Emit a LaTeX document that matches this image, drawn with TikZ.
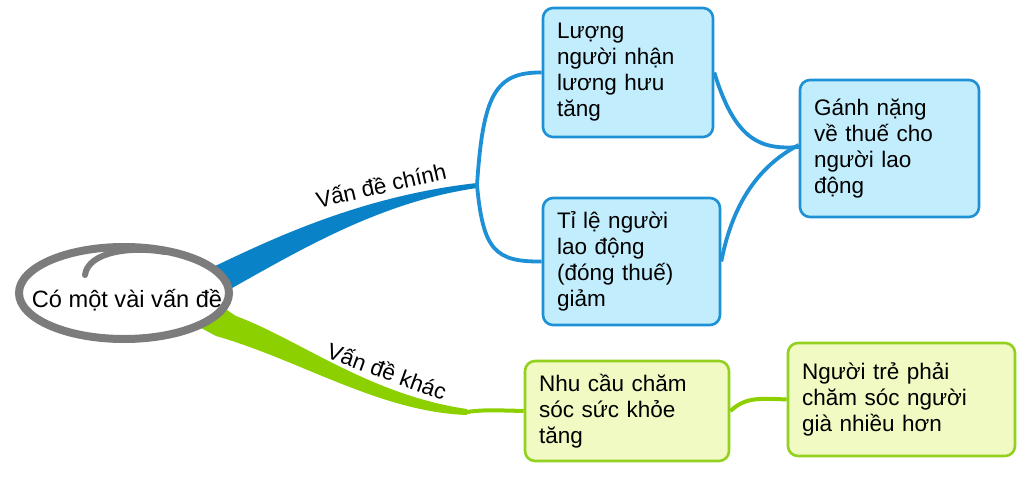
\documentclass[tikz,border=0pt]{standalone}
\usepackage{fontspec}
\setmainfont{Liberation Sans}
\definecolor{bline}{HTML}{1E90D6}
\definecolor{bfill}{HTML}{C2EDFC}
\definecolor{bbranch}{HTML}{0A82C8}
\definecolor{gline}{HTML}{92D21E}
\definecolor{gfill}{HTML}{F0FAC2}
\definecolor{gbranch}{HTML}{8CD000}
\definecolor{ring}{HTML}{7C7C7C}
\begin{document}
\begin{tikzpicture}[x=1pt,y=-1pt,
  txt/.style={font=\fontsize{22.5}{26}\selectfont},
  box/.style={txt, rounded corners=10pt, line width=2.6pt, inner xsep=14pt, inner ysep=4pt, align=left},
  bluebox/.style={box, draw=bline, fill=bfill},
  greenbox/.style={box, draw=gline, fill=gfill},
  bcon/.style={draw=bline, line width=3.8pt},
  gcon/.style={draw=gbranch, line width=4pt},
  lab/.style={txt, inner sep=0pt},
  ringline/.style={draw=ring, line width=8pt}]
\useasboundingbox (0,0) rectangle (1024,487);

% branches (drawn first, their roots hidden under the ellipse)
\coordinate (bj) at (477,185);
\coordinate (gj) at (467,412);
\fill[bbranch] (200,275) -- (213,267) .. controls (270,240) and (360,196) .. (477,183)
  -- (477,188) .. controls (380,202) and (300,250) .. (225,292) -- (205,292) -- cycle;
\fill[gbranch] (215,302) -- (236,316) .. controls (300,340) and (370,395) .. (467,409)
  -- (467,415) .. controls (380,412) and (300,360) .. (216,336) -- (190,322) -- cycle;

% root
\coordinate (rc) at (124,293);
\draw[ringline, fill=white] (rc) ellipse [x radius=105pt, y radius=46pt];
\draw[ring, line width=6pt, line cap=round] (85,275) .. controls (88,252) and (130,246) .. (165,252);
\node[font=\fontsize{23.6}{26}\selectfont, inner sep=0pt] (root) at (127,300) {Có một vài vấn đề};

% boxes
\node[bluebox, text width=142pt, minimum height=129pt] (A) at (628,72.5)
  {Lượng\\người nhận\\lương hưu\\tăng};
\node[bluebox, text width=149pt, minimum height=127pt] (B) at (631.5,261.5)
  {Tỉ lệ người\\lao động\\(đóng thuế)\\giảm};
\node[bluebox, text width=151pt, minimum height=137pt] (C) at (889.5,148.5)
  {Gánh nặng\\về thuế cho\\người lao\\động};
\node[greenbox, text width=176pt, minimum height=100pt] (D) at (627,411)
  {Nhu cầu chăm\\sóc sức khỏe\\tăng};
\node[greenbox, text width=199pt, minimum height=113pt] (E) at (901.5,399.5)
  {Người trẻ phải\\chăm sóc người\\già nhiều hơn};

% connectors
\draw[bcon] (bj) .. controls (483,95) and (495,72) .. (A.west);
\draw[bcon] (bj) .. controls (483,250) and (495,262) .. (B.west);
\draw[bcon] (A.east) .. controls (735,140) and (760,150) .. ([yshift=1.5pt]C.west);
\draw[bcon] (B.east) .. controls (735,190) and (770,160) .. ([yshift=3.5pt]C.west);
\draw[gcon] (gj) .. controls (480,410) and (490,410) .. (D.west);
\draw[gcon] (D.east) .. controls (745,398) and (755,398) .. (E.west);

% labels
\node[lab, rotate=13] (l1) at (381,185) {Vấn đề chính};
\node[lab, rotate=-20] (l2) at (387,371) {Vấn đề khác};
\end{tikzpicture}
\end{document}
